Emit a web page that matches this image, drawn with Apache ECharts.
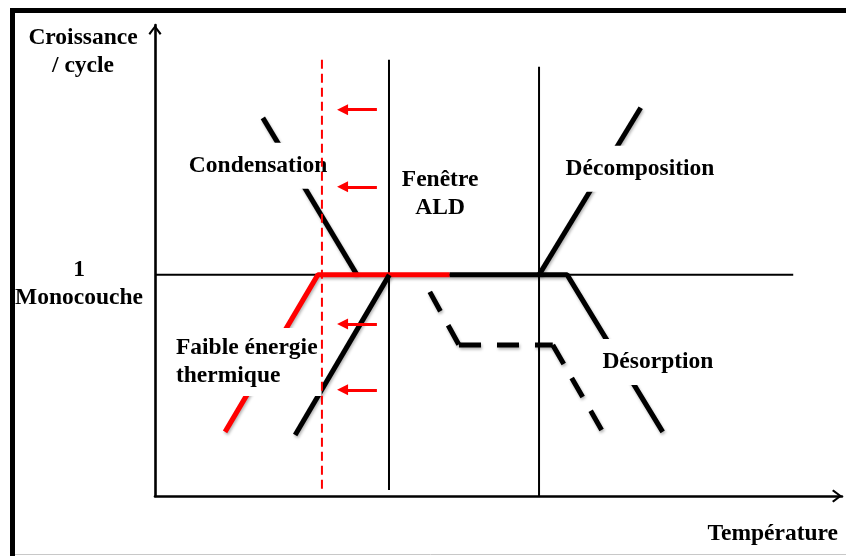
<!DOCTYPE html>
<html>
<head>
<meta charset="utf-8">
<script src="https://cdn.jsdelivr.net/npm/echarts@6/dist/echarts.min.js"></script>
<style>
html, body { margin: 0; padding: 0; background: #fff; }
#main { width: 846px; height: 556px; }
</style>
</head>
<body>
<div id="main"></div>
<script>
// x : température (unités arbitraires 0-100), y : croissance / cycle (1 = une monocouche)
var tickLabels = { 1: ['1', 'Monocouche'] };
var monocouche = [[0, 1], [92.9, 1]];
var condensation = [[15.7, 1.71], [29.4, 1]];
var faibleEnergie = [[20.4, 0.276], [34.1, 1]];
var fenetreDecalee = [[10.2, 0.29], [23.7, 1], [42.9, 1]];
var plateauDesorption = [[42.9, 1], [60.0, 1], [73.9, 0.29]];
var decomposition = [[55.9, 1], [70.7, 1.756]];
var desorptionPartielle = [[40.0, 0.923], [44.25, 0.683], [57.9, 0.683], [65.3, 0.283]];
var limiteBasse = [[34.06, 1.973], [34.06, 0.027]];
var limiteHaute = [[55.9, 1.941], [55.9, 0]];
var limiteDecalee = [[24.3, 1.973], [24.3, 0.027]];
var flechesY = [1.747, 1.398, 0.778, 0.480];
var flecheDe = 32.3, flecheA = 27.3;
var zones = ['Condensation', 'Fenêtre\nALD', 'Décomposition', 'Faible énergie\nthermique', 'Désorption'];
var zonesXY = [[15.0, 1.493], [41.5, 1.367], [70.6, 1.480], [2.47, 0.606], [73.2, 0.606]];

var police = 'Liberation Serif';
var taille = 23.5;
var ombre = { shadowColor: 'rgba(0,0,0,0.3)', shadowBlur: 3, shadowOffsetX: 1, shadowOffsetY: 2 };
var chevron = 'path://M6.5,0 L13,8.5 L11.4,10 L6.5,3.2 L1.6,10 L0,8.5 Z';

function trait(data, color, width, type, z, shadow) {
	return {
		type: 'line',
		data: data,
		showSymbol: false,
		symbol: 'none',
		silent: true,
		z: z,
		lineStyle: Object.assign({ color: color, width: width, type: type || 'solid', cap: 'butt' }, shadow ? ombre : {})
	};
}

// chaque segment de la courbe en tirets commence par un tiret
var tirets = [];
for (var i = 0; i < desorptionPartielle.length - 1; i++) {
	tirets.push(trait([desorptionPartielle[i], desorptionPartielle[i + 1]], '#000', 5, [22, 16], 3, true));
}

var myChart = echarts.init(document.getElementById('main'));
var option = {
	animation: false,
	backgroundColor: '#fff',
	grid: { left: 155, right: 4, top: 25, bottom: 60, containLabel: false, outerBoundsMode: 'none' },
	xAxis: {
		type: 'value',
		min: 0,
		max: 100,
		name: 'Température',
		nameLocation: 'end',
		nameGap: -4,
		nameTextStyle: { fontFamily: police, fontWeight: 'bold', fontSize: taille, color: '#000', align: 'right', verticalAlign: 'top', padding: [26, 0, 0, 0] },
		axisLine: { lineStyle: { color: '#000', width: 2.6 }, symbol: ['none', chevron], symbolSize: [13, 10], symbolOffset: [0, -5] },
		axisTick: { show: false },
		axisLabel: { show: false },
		splitLine: { show: false }
	},
	yAxis: {
		type: 'value',
		min: 0,
		max: 2.13,
		interval: 1,
		axisLine: { show: true, lineStyle: { color: '#000', width: 2.6 }, symbol: ['none', chevron], symbolSize: [13, 10], symbolOffset: [0, -5] },
		axisTick: { show: false },
		axisLabel: {
			margin: 76,
			align: 'center',
			color: '#000',
			formatter: function (v) {
				var t = tickLabels[v];
				return t ? '{a|' + t[0] + '}\n{b|' + t[1] + '}' : '';
			},
			rich: {
				a: { fontFamily: police, fontWeight: 'bold', fontSize: taille, lineHeight: 46, color: '#000' },
				b: { fontFamily: police, fontWeight: 'bold', fontSize: taille, lineHeight: 10, color: '#000' }
			}
		},
		splitLine: { show: false }
	},
	graphic: [
		{ type: 'text', x: 83, y: 24, style: { text: 'Croissance\n/ cycle', align: 'center', verticalAlign: 'top', fontFamily: police, fontWeight: 'bold', fontSize: taille, lineHeight: 28, fill: '#000' } },
		{ type: 'rect', shape: { x: 12.5, y: 10.5, width: 900, height: 600 }, style: { fill: 'none', stroke: '#000', lineWidth: 5 }, z: 100 },
		{ type: 'line', shape: { x1: 15, y1: 554.5, x2: 846, y2: 554.5 }, style: { stroke: '#c8c8c8', lineWidth: 1 }, z: 100 }
	],
	series: [
		trait(monocouche, '#000', 2, 'solid', 2),
		trait(limiteBasse, '#000', 2, 'solid', 2),
		trait(limiteHaute, '#000', 2, 'solid', 2),
		trait(condensation, '#000', 5, 'solid', 3, true),
		trait(fenetreDecalee, '#ff0000', 5, 'solid', 3, true),
		trait(faibleEnergie, '#000', 5, 'solid', 4, true),
		trait(plateauDesorption, '#000', 5, 'solid', 3, true),
		trait(decomposition, '#000', 5, 'solid', 3, true)
	].concat(tirets).concat([
		{
			type: 'scatter',
			symbolSize: 0,
			silent: true,
			z: 5,
			itemStyle: { opacity: 1 },
			data: zones.map(function (n, i) {
				return {
					name: n,
					value: zonesXY[i],
					label: { align: i === 3 ? 'left' : 'center', padding: n.indexOf('\n') >= 0 ? [6, 4] : [9, 4] }
				};
			}),
			label: {
				show: true,
				position: 'inside',
				formatter: '{b}',
				opacity: 1,
				fontFamily: police, fontWeight: 'bold', fontSize: taille, lineHeight: 28, color: '#000',
				backgroundColor: '#fff'
			}
		},
		trait(limiteDecalee, '#ff0000', 2, [9, 5], 6),
		{
			type: 'lines',
			coordinateSystem: 'cartesian2d',
			silent: true,
			z: 7,
			symbol: ['none', 'triangle'],
			symbolSize: [10, 11],
			lineStyle: { color: '#ff0000', width: 3, opacity: 1, curveness: 0 },
			data: flechesY.map(function (y) { return { coords: [[flecheDe, y], [flecheA, y]] }; })
		}
	])
};
myChart.setOption(option);
</script>
</body>
</html>
